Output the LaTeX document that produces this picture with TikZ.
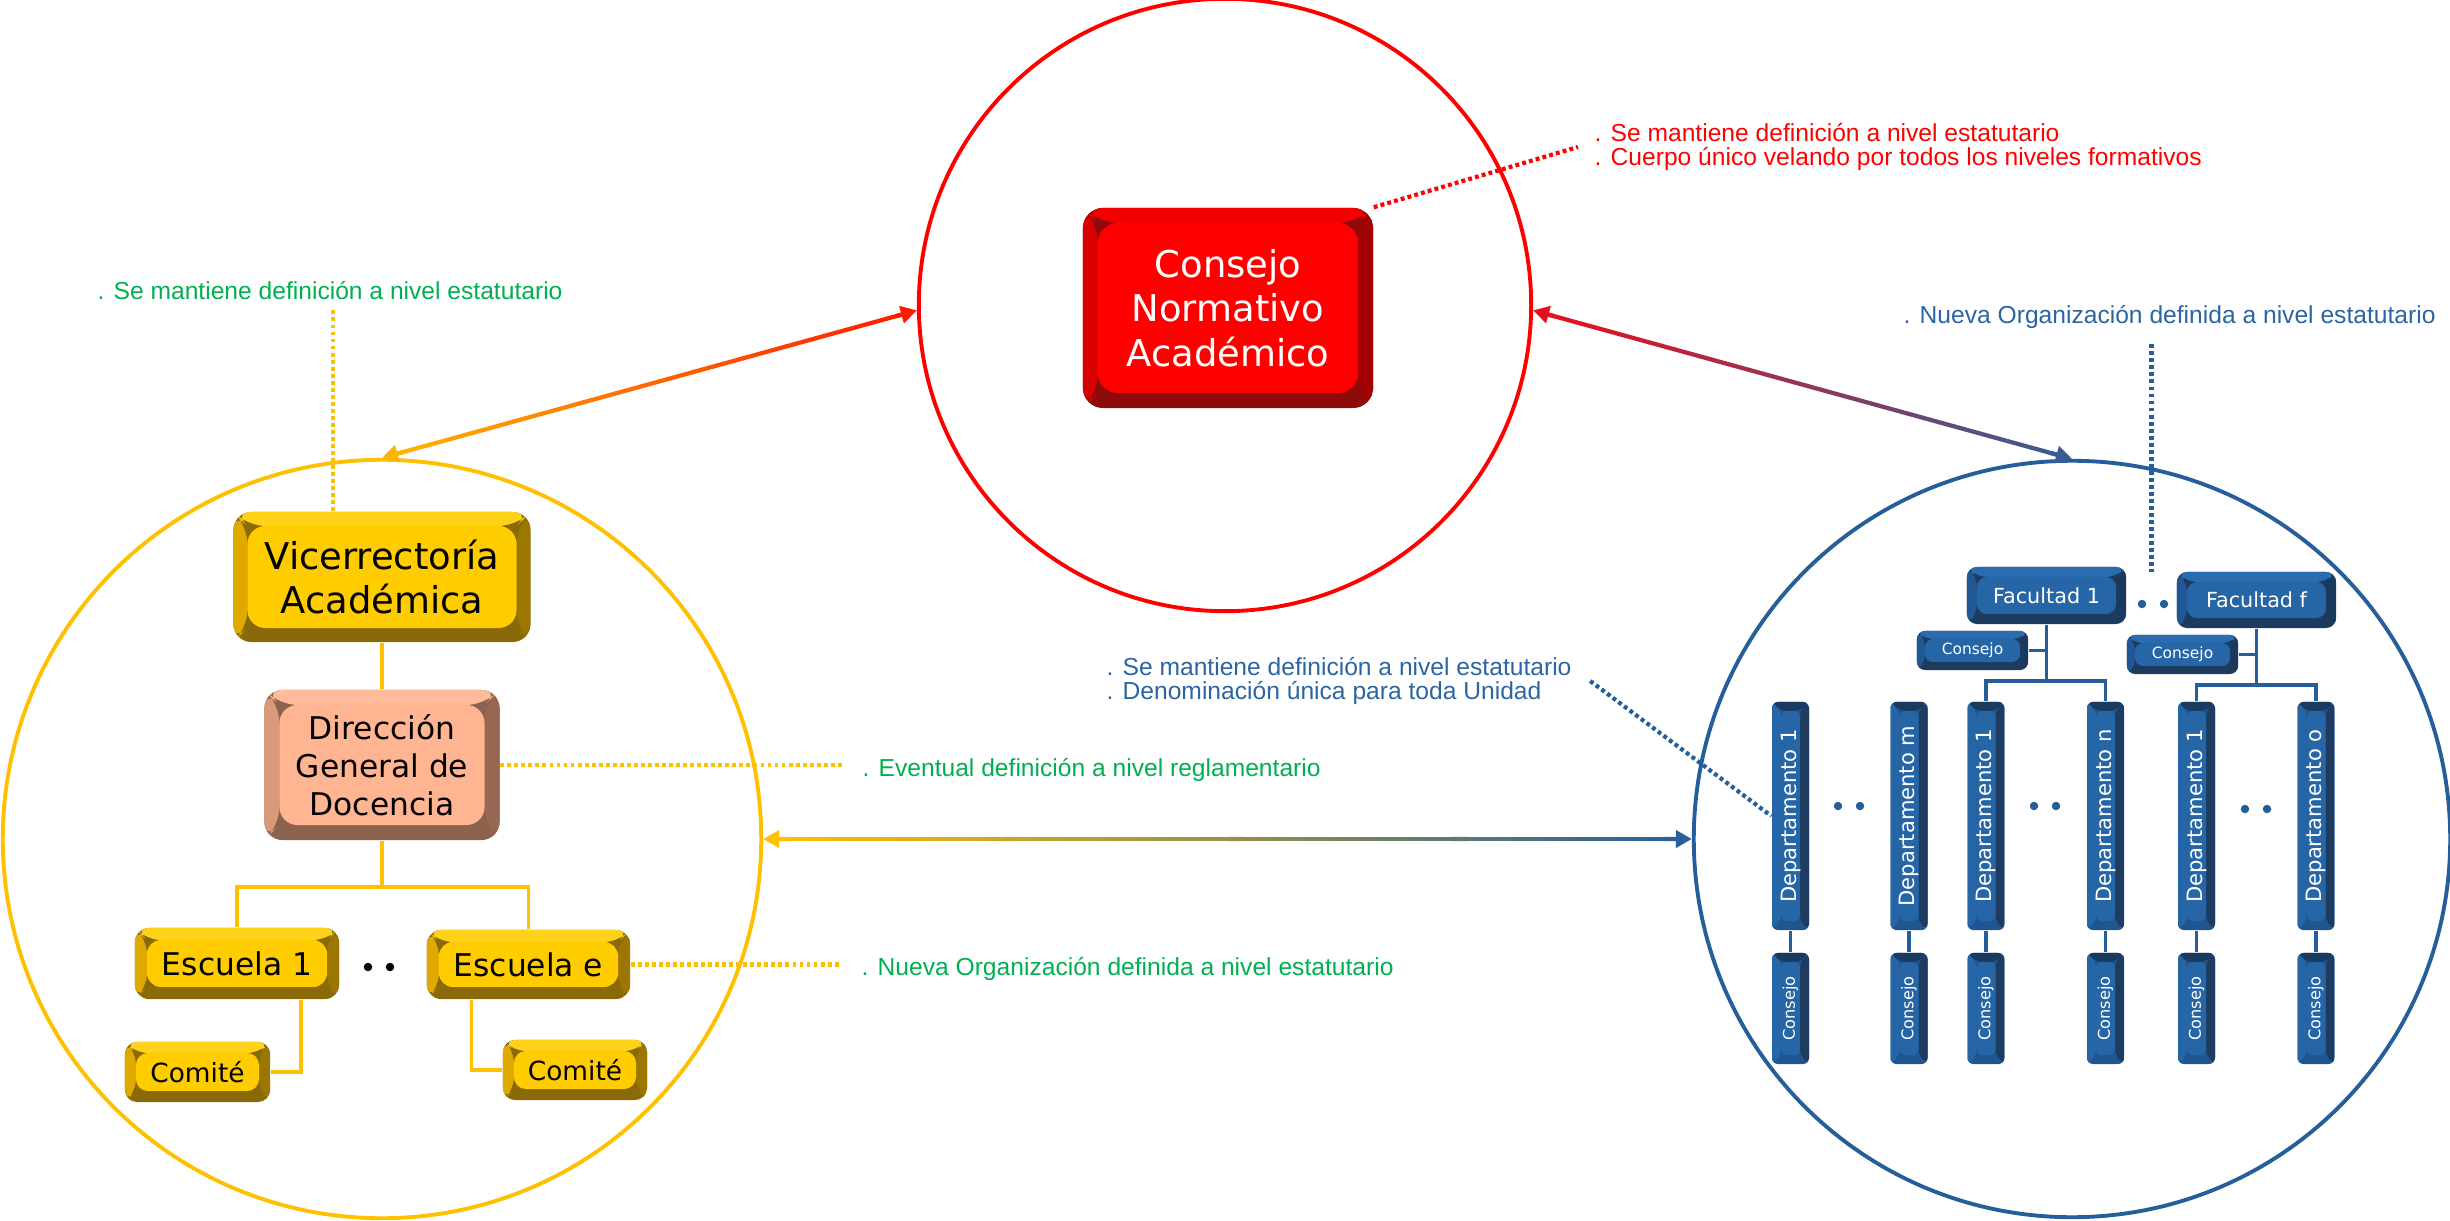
\documentclass[tikz,border=0pt]{standalone}
\usepackage{fontspec}
\newfontfamily\bxf{DejaVu Sans}
\newfontfamily\anf{Liberation Sans}
\usetikzlibrary{calc,arrows.meta}
\definecolor{cyel}{HTML}{FFC000}
\definecolor{cred}{HTML}{FF0000}
\definecolor{cblu}{HTML}{255E9B}
\definecolor{cgrn}{HTML}{00B050}
\definecolor{tblu}{HTML}{2B65A3}
\definecolor{gorg}{HTML}{FFB400}
\definecolor{gred}{HTML}{FF1A00}
\definecolor{gred2}{HTML}{E8101A}
\definecolor{gblu2}{HTML}{3A5A95}
\definecolor{gblu}{HTML}{2A6099}
% bevel colours
\definecolor{yface}{HTML}{FFCC00}\definecolor{ytop}{HTML}{FFD21A}\definecolor{yleft}{HTML}{DFA900}\definecolor{yright}{HTML}{9C7700}\definecolor{ybot}{HTML}{8A6A08}
\definecolor{rface}{HTML}{FF0000}\definecolor{rtop}{HTML}{F20000}\definecolor{rleft}{HTML}{D90000}\definecolor{rright}{HTML}{A30000}\definecolor{rbot}{HTML}{8E0B0B}
\definecolor{pface}{HTML}{FFB592}\definecolor{ptop}{HTML}{FFBB9A}\definecolor{pleft}{HTML}{D99A7C}\definecolor{pright}{HTML}{986752}\definecolor{pbot}{HTML}{8A624E}
\definecolor{bface}{HTML}{2666A6}\definecolor{btop}{HTML}{2A6CAE}\definecolor{bleft}{HTML}{1F5894}\definecolor{bright}{HTML}{193A5E}\definecolor{bbot}{HTML}{1D3B5E}
\definecolor{vtop}{HTML}{1A3A60}\definecolor{vleft}{HTML}{2666A6}\definecolor{vright}{HTML}{1E3C60}\definecolor{vbot}{HTML}{1F5590}

\newcommand\annf{\anf\fontsize{7}{6.7}\selectfont}

\tikzset{
  bevw/.store in=\bvw, bevw=0.12cm,
  bev/.style n args={5}{rectangle, rounded corners=0.14cm, inner sep=0pt, fill=#5,
    path picture={
      \coordinate (pnw) at (path picture bounding box.north west);
      \coordinate (pne) at (path picture bounding box.north east);
      \coordinate (psw) at (path picture bounding box.south west);
      \coordinate (pse) at (path picture bounding box.south east);
      \fill[#3] (pnw) -- (psw) -- ([shift={(\bvw,\bvw)}]psw) -- ([shift={(\bvw,-\bvw)}]pnw) -- cycle;
      \fill[#4] (pne) -- (pse) -- ([shift={(-\bvw,\bvw)}]pse) -- ([shift={(-\bvw,-\bvw)}]pne) -- cycle;
      \fill[#2] (pnw) -- (pne) -- ([shift={(-\bvw,-\bvw)}]pne) -- ([shift={(\bvw,-\bvw)}]pnw) -- cycle;
      \fill[#1] ([shift={(\bvw,-\bvw)}]pnw) rectangle ([shift={(-\bvw,\bvw)}]pse);
    }},
  ybox/.style={bev={yface}{ytop}{yleft}{yright}{ybot}, text=black, align=center},
  rbox/.style={bev={rface}{rtop}{rleft}{rright}{rbot}, text=white, align=center, rounded corners=0.2cm},
  pbox/.style={bev={pface}{ptop}{pleft}{pright}{pbot}, text=black, align=center, rounded corners=0.18cm},
  bbox/.style={bev={bface}{btop}{bleft}{bright}{bbot}, text=white, align=center, rounded corners=0.08cm},
  vbox/.style={bev={bface}{vtop}{vleft}{vright}{vbot}, text=white, rounded corners=0.06cm, bevw=0.09cm, minimum width=0.37cm},
  ring/.style={circle, line width=1.1pt, inner sep=0pt},
  yline/.style={cyel, line width=1.1pt},
  bline/.style={cblu, line width=1.1pt},
  dotln/.style={line width=1.2pt, dash pattern=on 1.1pt off 0.9pt},
  ann/.style={anchor=west, inner sep=0pt, font=\annf, align=left},
  dotsym/.style={circle, fill, inner sep=0pt, minimum size=0.085cm},
}

\newcommand\gradarrow[4]{%
  \coordinate (gA) at ($(#1)!0.14cm!(#2)$);
  \coordinate (gB) at ($(#2)!0.14cm!(#1)$);
  \foreach \i in {0,...,59}{%
    \pgfmathsetmacro\pa{100*(\i+0.5)/60}%
    \draw[line width=1.2pt, color=#4!\pa!#3] ($(gA)!\i/60!(gB)$) -- ($(gA)!{(\i+1.03)/60}!(gB)$);
  }
  \draw[line width=1.2pt, #3, -{Triangle[length=0.16cm,width=0.17cm]}] ($(#1)!0.22cm!(#2)$) -- (#1);
  \draw[line width=1.2pt, #4, -{Triangle[length=0.16cm,width=0.17cm]}] ($(#2)!0.22cm!(#1)$) -- (#2);
}

\begin{document}
\begin{tikzpicture}[x=0.01cm,y=-0.01cm]
\useasboundingbox (0,0) rectangle (2450,1221);

% circles
\node[ring, draw=cyel, minimum size=7.58cm] (ycirc) at (382,839) {};
\node[ring, draw=cred, minimum size=6.12cm] (rcirc) at (1225,305) {};
\node[ring, draw=cblu, minimum size=7.56cm] (bcirc) at (2072,839) {};

% gradient double arrows
\gradarrow{ycirc.north}{rcirc.181}{gorg}{gred}
\gradarrow{rcirc.359}{bcirc.north}{gred2}{gblu2}
\gradarrow{ycirc.east}{bcirc.west}{cyel}{gblu}

% ---------------- red box
\node[rbox, bevw=0.15cm, minimum width=2.9cm, minimum height=2cm,
      font=\bxf\fontsize{10.5}{12.7}\selectfont] (cna) at (1228,308) {Consejo\\Normativo\\Académico};

% ---------------- yellow side
\node[ybox, bevw=0.14cm, rounded corners=0.18cm, minimum width=2.97cm, minimum height=1.3cm,
      font=\bxf\fontsize{10.5}{12.3}\selectfont] (vic) at (382,577) {Vicerrectoría\\Académica};
\node[pbox, bevw=0.15cm, minimum width=2.35cm, minimum height=1.5cm,
      font=\bxf\fontsize{8.9}{10.8}\selectfont] (dir) at (382,765) {Dirección\\General de\\Docencia};
\node[ybox, bevw=0.12cm, minimum width=2.04cm, minimum height=0.71cm,
      font=\bxf\fontsize{8.9}{10}\selectfont] (esc1) at (237,963.5) {Escuela 1};
\node[ybox, bevw=0.12cm, minimum width=2.03cm, minimum height=0.69cm,
      font=\bxf\fontsize{8.9}{10}\selectfont] (esce) at (528.5,964.5) {Escuela e};
\node[ybox, bevw=0.11cm, rounded corners=0.12cm, minimum width=1.45cm, minimum height=0.6cm,
      font=\bxf\fontsize{7.5}{9}\selectfont] (com1) at (197.5,1072) {Comité};
\node[ybox, bevw=0.11cm, rounded corners=0.12cm, minimum width=1.44cm, minimum height=0.6cm,
      font=\bxf\fontsize{7.5}{9}\selectfont] (com2) at (575,1070) {Comité};
\node[dotsym, black] (yd1) at (368,967) {};
\node[dotsym, black] (yd2) at (390,967) {};

\coordinate (ybar) at (382,887);
\draw[yline] (vic.south) -- (dir.north);
\draw[yline] (dir.south) -- (ybar);
\draw[yline] (esc1.north) |- (ybar) -| (esce.north);
\draw[yline] ($(esc1.south)+(64,0)$) |- (com1.east);
\draw[yline] ($(esce.south)+(-57,0)$) |- (com2.west);

% ---------------- blue side
\node[bbox, bevw=0.1cm, rounded corners=0.1cm, minimum width=1.59cm, minimum height=0.57cm,
      font=\bxf\fontsize{5.9}{7}\selectfont] (fac1) at (2046.5,595.5) {Facultad 1};
\node[bbox, bevw=0.1cm, rounded corners=0.1cm, minimum width=1.59cm, minimum height=0.56cm,
      font=\bxf\fontsize{5.9}{7}\selectfont] (facf) at (2256.5,600) {Facultad f};
\node[bbox, bevw=0.08cm, minimum width=1.11cm, minimum height=0.39cm,
      font=\bxf\fontsize{4.4}{5}\selectfont] (cf1) at (1972.5,650.5) {Consejo};
\node[bbox, bevw=0.08cm, minimum width=1.11cm, minimum height=0.39cm,
      font=\bxf\fontsize{4.4}{5}\selectfont] (cff) at (2182.5,654.5) {Consejo};
\node[dotsym, cblu] (fd1) at (2142,604) {};
\node[dotsym, cblu] (fd2) at (2164,604) {};

\foreach \n/\x/\t in {1/1790.5/1, 2/1909/m, 3/1986/1, 4/2105.5/n, 5/2196.5/1, 6/2316/o}{
  \node[vbox, minimum height=2.28cm, font=\bxf\fontsize{6}{7}\selectfont] (dep\n) at (\x,816) {\rotatebox{90}{Departamento \t}};
  \node[vbox, minimum height=1.11cm, font=\bxf\fontsize{4.6}{5}\selectfont] (cd\n) at (\x,1008.5) {\rotatebox{90}{Consejo}};
  \draw[bline] (dep\n.south) -- (cd\n.north);
}
\node[dotsym, cblu] (dd1) at (1838,806) {};
\node[dotsym, cblu] (dd2) at (1860,806) {};
\node[dotsym, cblu] (dd3) at (2034,806) {};
\node[dotsym, cblu] (dd4) at (2056,806) {};
\node[dotsym, cblu] (dd5) at (2245,809) {};
\node[dotsym, cblu] (dd6) at (2267,809) {};

\coordinate (fb1) at (2046.5,681);
\coordinate (fbf) at (2256.5,685);
\draw[bline] (fac1.south) -- (fb1);
\draw[bline] (dep3.north) |- (fb1) -| (dep4.north);
\draw[bline] (cf1.east) -- (cf1.east -| fac1.south);
\draw[bline] (facf.south) -- (fbf);
\draw[bline] (dep5.north) |- (fbf) -| (dep6.north);
\draw[bline] (cff.east) -- (cff.east -| facf.south);

% ---------------- annotations
\node[ann, text=cgrn] (g1) at (97,291) {. Se mantiene definición a nivel estatutario};
\node[ann, text=cgrn] (g2) at (862,770) {. Eventual definición a nivel reglamentario};
\node[ann, text=cgrn] (g3) at (861,969) {. Nueva Organización definida a nivel estatutario};
\node[ann, text=cred] (r1) at (1594,147) {. Se mantiene definición a nivel estatutario\\. Cuerpo único velando por todos los niveles formativos};
\node[ann, text=tblu] (t1) at (1903,317) {. Nueva Organización definida a nivel estatutario};
\node[ann, text=tblu] (m1) at (1106,681) {. Se mantiene definición a nivel estatutario\\. Denominación única para toda Unidad};

\coordinate (v1) at ($(vic.north)+(-49,0)$);
\draw[dotln, cyel] (v1) -- ([yshift=-0.07cm]v1 |- g1.south);
\draw[dotln, cyel] (dir.east) -- ([xshift=-0.2cm]dir.east -| g2.west);
\draw[dotln, cyel] (esce.east) -- ([xshift=-0.2cm]esce.east -| g3.west);
\draw[dotln, cred] (cna.north east) -- ([xshift=-0.16cm]r1.west);
\coordinate (fm) at ($(fac1.east)!0.5!(facf.west)$);
\draw[dotln, cblu] ([yshift=-0.15cm]fm |- t1.south) -- ([yshift=0.26cm]fm);
\draw[dotln, cblu] ([xshift=0.18cm]m1.east) -- (dep1.west);
\end{tikzpicture}
\end{document}
